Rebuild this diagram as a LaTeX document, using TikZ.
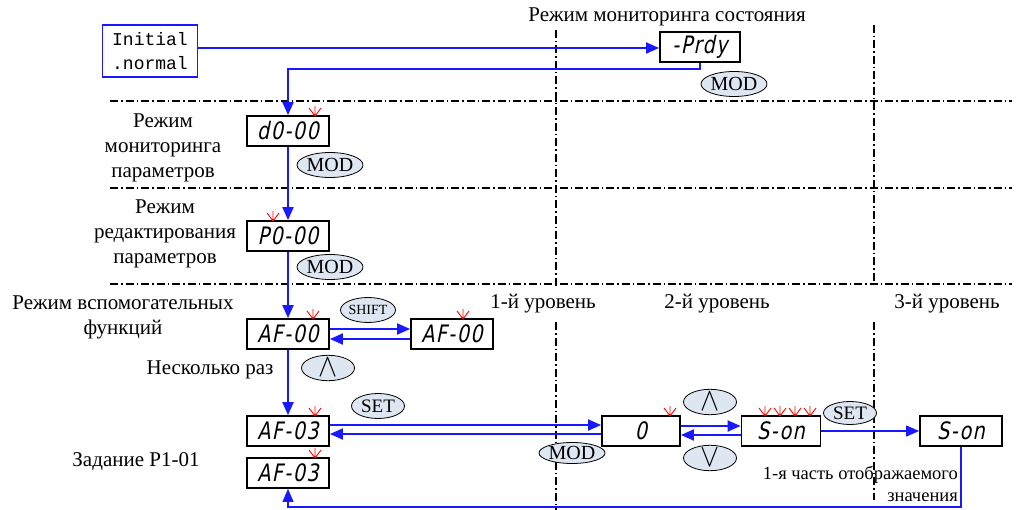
\documentclass[tikz,border=0pt]{standalone}
\usepackage{fontspec}
\setmainfont{Liberation Serif}
\newfontfamily\segfont{DejaVu Sans}[FakeSlant=0.2,FakeStretch=0.8,LetterSpace=6]
\newfontfamily\initfont{Liberation Mono}
\usetikzlibrary{arrows.meta,shapes.geometric}
\definecolor{flowblue}{RGB}{25,25,255}
\definecolor{btnfill}{RGB}{222,230,242}
\newcommand\upsym{\scalebox{1.15}[1.3]{\fontsize{24}{24}\selectfont$\wedge$}}
\newcommand\dnsym{\scalebox{1.15}[1.3]{\fontsize{24}{24}\selectfont$\vee$}}
\tikzset{
  segbox/.style={draw, line width=1.8pt, minimum width=82pt, minimum height=30pt, inner sep=0pt, font=\segfont\fontsize{24}{24}\selectfont},
  btn/.style={ellipse, draw, line width=0.8pt, fill=btnfill, minimum width=53pt, minimum height=25pt, inner sep=0pt, font=\fontsize{20}{20}\selectfont},
  lbl/.style={font=\fontsize{21}{25}\selectfont, align=center, inner sep=0pt},
  small/.style={font=\fontsize{18.5}{22}\selectfont, inner sep=0pt},
  flow/.style={draw=flowblue, line width=2pt},
  thin flow/.style={draw=flowblue, line width=1.2pt},
  arr/.style={-{Triangle[length=13pt,width=11pt]}},
  sep/.style={line width=1.4pt, dash pattern=on 8pt off 3pt on 1.5pt off 3pt},
  spark/.pic={\draw[red, line width=0.9pt] (0,0)--(0,-10) (0,0)--(-6,-8) (0,0)--(6,-8);}
}
\begin{document}
\begin{tikzpicture}[x=1pt,y=-1pt]
\useasboundingbox (0,0) rectangle (1019,510);

% separators
\draw[sep] (110,101) -- (1012,101);
\draw[sep] (110,188) -- (1012,188);
\draw[sep] (110,284) -- (1012,284);
\draw[sep] (556,30) -- (556,288);
\draw[sep] (556,322) -- (556,510);
\draw[sep] (874,25) -- (874,284);
\draw[sep] (874,322) -- (874,500);

% texts
\node[lbl] (title) at (667,17) {Режим мониторинга состояния};
\node[lbl] (t1) at (163,148) {Режим\\мониторинга\\параметров};
\node[lbl] (t2) at (165,234) {Режим\\редактирования\\параметров};
\node[lbl] (t3) at (123,317) {Режим вспомогательных\\функций};
\node[lbl] (t4) at (210,370) {Несколько раз};
\node[lbl] (t5) at (136,462) {Задание P1-01};
\node[lbl] (lv1) at (543,304) {1-й уровень};
\node[lbl] (lv2) at (717,304) {2-й уровень};
\node[lbl] (lv3) at (947,304) {3-й уровень};
\node[small, anchor=east] (n1) at (958,475) {1-я часть отображаемого};
\node[small, anchor=east] (n2) at (958,497) {значения};

% boxes
\node[draw=flowblue, line width=1.6pt, minimum width=95pt, minimum height=52pt, inner sep=2pt, align=left, font=\initfont\fontsize{18}{24}\selectfont] (init) at (150,51) {Initial\\.normal};
\node[segbox, minimum width=80pt] (prdy) at (700,47) {-Prdy};
\node[segbox] (d0) at (288,131) {d0-00};
\node[segbox] (p0) at (288,236) {P0-00};
\node[segbox] (af0) at (288,334) {AF-00};
\node[segbox] (af0b) at (452,334) {AF-00};
\node[segbox] (af3) at (288,431) {AF-03};
\node[segbox] (af3b) at (288,473) {AF-03};
\node[segbox, minimum width=78pt] (zero) at (641,431) {0};
\node[segbox, minimum width=79pt] (son) at (781,431) {S-on};
\node[segbox] (son2) at (961,431) {S-on};

% sparks
\pic at (315,116) {spark};
\pic at (273,221) {spark};
\pic at (313,319) {spark};
\pic at (463,319) {spark};
\pic at (315,416) {spark};
\pic at (315,458) {spark};
\pic at (670,416) {spark};
\pic at (765,416) {spark};
\pic at (780,416) {spark};
\pic at (795,416) {spark};
\pic at (810,416) {spark};

% buttons
\node[btn] (bmod0) at (734,84) {MOD};
\node[btn] (bmod1) at (330,165) {MOD};
\node[btn] (bmod2) at (330,267) {MOD};
\node[btn, font=\fontsize{14}{14}\selectfont] (bshift) at (368,310) {SHIFT};
\node[btn] (bup1) at (328,368) {\upsym};
\node[btn, font=\fontsize{19}{19}\selectfont] (bset1) at (378,406) {SET};
\node[btn, minimum width=50pt, minimum height=21pt] (bmod3) at (572,453) {MOD};
\node[btn, minimum height=23pt] (bup2) at (710,402) {\upsym};
\node[btn, minimum height=23pt] (bdn2) at (710,458) {\dnsym};
\node[btn, minimum height=23pt, font=\fontsize{19}{19}\selectfont] (bset2) at (850,413) {SET};

% connectors
\draw[flow,arr] (init.east |- 0,48) -- (prdy.west |- 0,48);
\draw[flow,arr] (prdy.south) -- ++(0,6) -| (d0.north);
\draw[flow,arr] (d0.south) -- (p0.north);
\draw[flow,arr] (p0.south) -- (af0.north);
\draw[flow,arr] (af0.south) -- (af3.north);
\draw[flow,arr] (af0.east |- 0,329) -- (af0b.west |- 0,329);
\draw[flow,arr] (af0b.west |- 0,339) -- (af0.east |- 0,339);
\draw[flow,arr] (af3.east |- 0,425) -- (zero.west |- 0,425);
\draw[flow,arr] (zero.west |- 0,434) -- (af3.east |- 0,434);
\draw[flow,arr] (zero.east |- 0,426) -- (son.west |- 0,426);
\draw[flow,arr] (son.west |- 0,435) -- (zero.east |- 0,435);
\draw[thin flow,arr] (son.east) -- (son2.west);
\draw[thin flow,arr] (son2.south) -- (son2.south |- 0,507) -| (af3b.south);
\end{tikzpicture}
\end{document}
